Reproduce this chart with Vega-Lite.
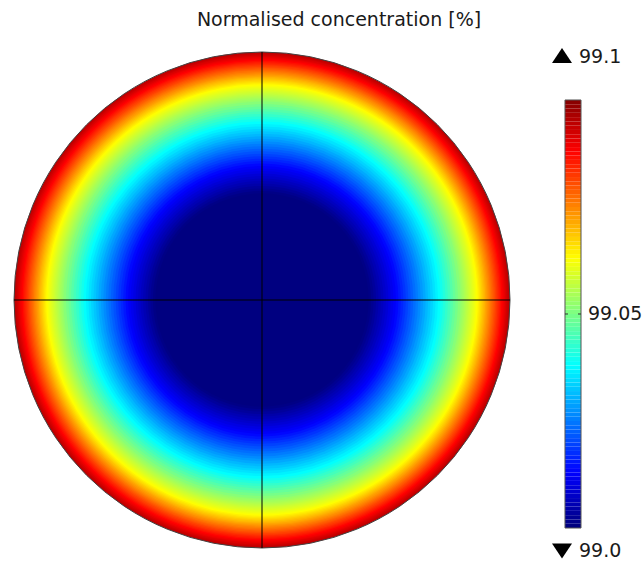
{
  "$schema": "https://vega.github.io/schema/vega-lite/v6.json",
  "padding": {"left": 12, "top": 10, "right": 0, "bottom": 0},
  "background": "white",
  "config": {"view": {"stroke": null}, "font": "DejaVu Sans"},
  "title": {"text": "Normalised concentration [%]", "fontSize": 19, "fontWeight": "normal", "font": "DejaVu Sans", "color": "#1a1a1a", "anchor": "middle", "offset": 18, "dx": 10},
  "width": 632,
  "height": 500,
  "datasets": {
    "rings": [
      {"r": 1.000, "c": 99.0944}, {"r": 0.995, "c": 99.0932}, {"r": 0.990, "c": 99.0921}, {"r": 0.985, "c": 99.0909},
      {"r": 0.980, "c": 99.0897}, {"r": 0.975, "c": 99.0886}, {"r": 0.970, "c": 99.0874}, {"r": 0.965, "c": 99.0861},
      {"r": 0.960, "c": 99.0849}, {"r": 0.955, "c": 99.0837}, {"r": 0.950, "c": 99.0824}, {"r": 0.945, "c": 99.0812},
      {"r": 0.940, "c": 99.0800}, {"r": 0.935, "c": 99.0787}, {"r": 0.930, "c": 99.0775}, {"r": 0.925, "c": 99.0762},
      {"r": 0.920, "c": 99.0750}, {"r": 0.915, "c": 99.0738}, {"r": 0.910, "c": 99.0725}, {"r": 0.905, "c": 99.0713},
      {"r": 0.900, "c": 99.0700}, {"r": 0.895, "c": 99.0688}, {"r": 0.890, "c": 99.0676}, {"r": 0.885, "c": 99.0663},
      {"r": 0.880, "c": 99.0651}, {"r": 0.875, "c": 99.0639}, {"r": 0.870, "c": 99.0626}, {"r": 0.865, "c": 99.0618},
      {"r": 0.860, "c": 99.0609}, {"r": 0.855, "c": 99.0601}, {"r": 0.850, "c": 99.0593}, {"r": 0.845, "c": 99.0585},
      {"r": 0.840, "c": 99.0577}, {"r": 0.835, "c": 99.0569}, {"r": 0.830, "c": 99.0560}, {"r": 0.825, "c": 99.0552},
      {"r": 0.820, "c": 99.0544}, {"r": 0.815, "c": 99.0536}, {"r": 0.810, "c": 99.0528}, {"r": 0.805, "c": 99.0520},
      {"r": 0.80, "c": 99.0507}, {"r": 0.79, "c": 99.0491}, {"r": 0.78, "c": 99.0475}, {"r": 0.77, "c": 99.0458},
      {"r": 0.76, "c": 99.0442}, {"r": 0.75, "c": 99.0426}, {"r": 0.74, "c": 99.0409}, {"r": 0.73, "c": 99.0393},
      {"r": 0.72, "c": 99.0377}, {"r": 0.71, "c": 99.0362}, {"r": 0.70, "c": 99.0348}, {"r": 0.69, "c": 99.0333},
      {"r": 0.68, "c": 99.0319}, {"r": 0.67, "c": 99.0305}, {"r": 0.66, "c": 99.0290}, {"r": 0.65, "c": 99.0276},
      {"r": 0.64, "c": 99.0261}, {"r": 0.63, "c": 99.0247}, {"r": 0.62, "c": 99.0233}, {"r": 0.61, "c": 99.0218},
      {"r": 0.60, "c": 99.0204}, {"r": 0.59, "c": 99.0190}, {"r": 0.58, "c": 99.0175}, {"r": 0.57, "c": 99.0161},
      {"r": 0.56, "c": 99.0147}, {"r": 0.55, "c": 99.0132}, {"r": 0.54, "c": 99.0119}, {"r": 0.53, "c": 99.0108},
      {"r": 0.52, "c": 99.0097}, {"r": 0.51, "c": 99.0085}, {"r": 0.50, "c": 99.0074}, {"r": 0.49, "c": 99.0062},
      {"r": 0.48, "c": 99.0051}, {"r": 0.47, "c": 99.0040}, {"r": 0.46, "c": 99.0028}, {"r": 0.45, "c": 99.0017},
      {"r": 0.44, "c": 99.0006}, {"r": 0.43, "c": 99.0000}
    ],
    "bar": [
      {"lo": 99.000, "hi": 99.001}, {"lo": 99.001, "hi": 99.002}, {"lo": 99.002, "hi": 99.003}, {"lo": 99.003, "hi": 99.004},
      {"lo": 99.004, "hi": 99.005}, {"lo": 99.005, "hi": 99.006}, {"lo": 99.006, "hi": 99.007}, {"lo": 99.007, "hi": 99.008},
      {"lo": 99.008, "hi": 99.009}, {"lo": 99.009, "hi": 99.010}, {"lo": 99.010, "hi": 99.011}, {"lo": 99.011, "hi": 99.012},
      {"lo": 99.012, "hi": 99.013}, {"lo": 99.013, "hi": 99.014}, {"lo": 99.014, "hi": 99.015}, {"lo": 99.015, "hi": 99.016},
      {"lo": 99.016, "hi": 99.017}, {"lo": 99.017, "hi": 99.018}, {"lo": 99.018, "hi": 99.019}, {"lo": 99.019, "hi": 99.020},
      {"lo": 99.020, "hi": 99.021}, {"lo": 99.021, "hi": 99.022}, {"lo": 99.022, "hi": 99.023}, {"lo": 99.023, "hi": 99.024},
      {"lo": 99.024, "hi": 99.025}, {"lo": 99.025, "hi": 99.026}, {"lo": 99.026, "hi": 99.027}, {"lo": 99.027, "hi": 99.028},
      {"lo": 99.028, "hi": 99.029}, {"lo": 99.029, "hi": 99.030}, {"lo": 99.030, "hi": 99.031}, {"lo": 99.031, "hi": 99.032},
      {"lo": 99.032, "hi": 99.033}, {"lo": 99.033, "hi": 99.034}, {"lo": 99.034, "hi": 99.035}, {"lo": 99.035, "hi": 99.036},
      {"lo": 99.036, "hi": 99.037}, {"lo": 99.037, "hi": 99.038}, {"lo": 99.038, "hi": 99.039}, {"lo": 99.039, "hi": 99.040},
      {"lo": 99.040, "hi": 99.041}, {"lo": 99.041, "hi": 99.042}, {"lo": 99.042, "hi": 99.043}, {"lo": 99.043, "hi": 99.044},
      {"lo": 99.044, "hi": 99.045}, {"lo": 99.045, "hi": 99.046}, {"lo": 99.046, "hi": 99.047}, {"lo": 99.047, "hi": 99.048},
      {"lo": 99.048, "hi": 99.049}, {"lo": 99.049, "hi": 99.050}, {"lo": 99.050, "hi": 99.051}, {"lo": 99.051, "hi": 99.052},
      {"lo": 99.052, "hi": 99.053}, {"lo": 99.053, "hi": 99.054}, {"lo": 99.054, "hi": 99.055}, {"lo": 99.055, "hi": 99.056},
      {"lo": 99.056, "hi": 99.057}, {"lo": 99.057, "hi": 99.058}, {"lo": 99.058, "hi": 99.059}, {"lo": 99.059, "hi": 99.060},
      {"lo": 99.060, "hi": 99.061}, {"lo": 99.061, "hi": 99.062}, {"lo": 99.062, "hi": 99.063}, {"lo": 99.063, "hi": 99.064},
      {"lo": 99.064, "hi": 99.065}, {"lo": 99.065, "hi": 99.066}, {"lo": 99.066, "hi": 99.067}, {"lo": 99.067, "hi": 99.068},
      {"lo": 99.068, "hi": 99.069}, {"lo": 99.069, "hi": 99.070}, {"lo": 99.070, "hi": 99.071}, {"lo": 99.071, "hi": 99.072},
      {"lo": 99.072, "hi": 99.073}, {"lo": 99.073, "hi": 99.074}, {"lo": 99.074, "hi": 99.075}, {"lo": 99.075, "hi": 99.076},
      {"lo": 99.076, "hi": 99.077}, {"lo": 99.077, "hi": 99.078}, {"lo": 99.078, "hi": 99.079}, {"lo": 99.079, "hi": 99.080},
      {"lo": 99.080, "hi": 99.081}, {"lo": 99.081, "hi": 99.082}, {"lo": 99.082, "hi": 99.083}, {"lo": 99.083, "hi": 99.084},
      {"lo": 99.084, "hi": 99.085}, {"lo": 99.085, "hi": 99.086}, {"lo": 99.086, "hi": 99.087}, {"lo": 99.087, "hi": 99.088},
      {"lo": 99.088, "hi": 99.089}, {"lo": 99.089, "hi": 99.090}, {"lo": 99.090, "hi": 99.091}, {"lo": 99.091, "hi": 99.092},
      {"lo": 99.092, "hi": 99.093}, {"lo": 99.093, "hi": 99.094}, {"lo": 99.094, "hi": 99.095}, {"lo": 99.095, "hi": 99.096},
      {"lo": 99.096, "hi": 99.097}, {"lo": 99.097, "hi": 99.098}, {"lo": 99.098, "hi": 99.099}, {"lo": 99.099, "hi": 99.100}
    ]
  },
  "resolve": {"scale": {"y": "independent"}, "axis": {"y": "independent"}},
  "layer": [
    {
      "layer": [
        {
          "data": {"name": "rings"},
          "mark": {"type": "point", "shape": "circle", "filled": true, "opacity": 1, "strokeWidth": 0},
          "encoding": {
            "x": {"datum": 0, "type": "quantitative", "scale": {"domain": [-1.00403, 1.54435], "nice": false, "zero": false}, "axis": null},
            "y": {"datum": 0, "type": "quantitative", "scale": {"domain": [-1.00806, 1.00806], "nice": false, "zero": false}, "axis": null},
            "size": {"field": "r", "type": "quantitative", "legend": null, "scale": {"type": "pow", "exponent": 2, "domain": [0, 1], "range": [0, 246016], "zero": true}},
            "color": {
              "field": "c", "type": "quantitative", "legend": null,
              "scale": {"domain": [99.0, 99.0125, 99.0375, 99.0625, 99.0875, 99.1], "range": ["#000080", "#0000ff", "#00ffff", "#ffff00", "#ff0000", "#800000"], "clamp": true, "interpolate": "rgb"}
            }
          }
        },
        {
          "data": {"values": [{}]},
          "mark": {"type": "point", "shape": "circle", "filled": false, "opacity": 1, "stroke": "#444444", "strokeWidth": 1},
          "encoding": {
            "x": {"datum": 0, "type": "quantitative", "axis": null},
            "y": {"datum": 0, "type": "quantitative", "axis": null},
            "size": {"datum": 1, "type": "quantitative", "legend": null}
          }
        },
        {
          "data": {"values": [{}]},
          "mark": {"type": "rule", "color": "#000000", "strokeWidth": 1},
          "encoding": {
            "x": {"datum": 0, "type": "quantitative", "axis": null},
            "y": {"datum": -1, "type": "quantitative", "axis": null},
            "y2": {"datum": 1}
          }
        },
        {
          "data": {"values": [{}]},
          "mark": {"type": "rule", "color": "#000000", "strokeWidth": 1},
          "encoding": {
            "y": {"datum": 0, "type": "quantitative", "axis": null},
            "x": {"datum": -1, "type": "quantitative", "axis": null},
            "x2": {"datum": 1}
          }
        }
      ]
    },
    {
      "layer": [
        {
          "data": {"name": "bar"},
          "mark": {"type": "rect"},
          "encoding": {
            "x": {"datum": 1.22177, "type": "quantitative", "axis": null},
            "x2": {"datum": 1.28629},
            "y": {"field": "lo", "type": "quantitative", "scale": {"domain": [98.99486, 99.11168], "nice": false, "zero": false}, "axis": null},
            "y2": {"field": "hi"},
            "color": {"field": "lo", "type": "quantitative", "legend": null}
          }
        },
        {
          "data": {"values": [{}]},
          "mark": {"type": "rect", "filled": false, "stroke": "#555555", "strokeWidth": 1},
          "encoding": {
            "x": {"datum": 1.22177, "type": "quantitative", "axis": null},
            "x2": {"datum": 1.28629},
            "y": {"datum": 99.0, "type": "quantitative", "axis": null},
            "y2": {"datum": 99.1}
          }
        },
        {
          "data": {"values": [{}]},
          "mark": {"type": "rule", "color": "#333333", "strokeWidth": 1},
          "encoding": {
            "x": {"datum": 1.22177, "type": "quantitative", "axis": null},
            "x2": {"datum": 1.23387},
            "y": {"datum": 99.05, "type": "quantitative", "axis": null}
          }
        },
        {
          "data": {"values": [{}]},
          "mark": {"type": "rule", "color": "#333333", "strokeWidth": 1},
          "encoding": {
            "x": {"datum": 1.27419, "type": "quantitative", "axis": null},
            "x2": {"datum": 1.28629},
            "y": {"datum": 99.05, "type": "quantitative", "axis": null}
          }
        },
        {
          "data": {"values": [{}]},
          "mark": {"type": "point", "shape": "M-1,0.75L1,0.75L0,-0.75Z", "filled": true, "color": "#000000", "opacity": 1, "size": 400},
          "encoding": {"x": {"datum": 1.20968, "type": "quantitative", "axis": null}, "y": {"datum": 99.1104, "type": "quantitative", "axis": null}}
        },
        {
          "data": {"values": [{}]},
          "mark": {"type": "point", "shape": "M-1,-0.75L1,-0.75L0,0.75Z", "filled": true, "color": "#000000", "opacity": 1, "size": 400},
          "encoding": {"x": {"datum": 1.20968, "type": "quantitative", "axis": null}, "y": {"datum": 98.99463, "type": "quantitative", "axis": null}}
        },
        {
          "data": {"values": [{"t": "99.1"}]},
          "mark": {"type": "text", "align": "left", "baseline": "middle", "fontSize": 19, "font": "DejaVu Sans", "color": "#1a1a1a"},
          "encoding": {"x": {"datum": 1.27823, "type": "quantitative", "axis": null}, "y": {"datum": 99.11005, "type": "quantitative", "axis": null}, "text": {"field": "t"}}
        },
        {
          "data": {"values": [{"t": "99.0"}]},
          "mark": {"type": "text", "align": "left", "baseline": "middle", "fontSize": 19, "font": "DejaVu Sans", "color": "#1a1a1a"},
          "encoding": {"x": {"datum": 1.27823, "type": "quantitative", "axis": null}, "y": {"datum": 98.99463, "type": "quantitative", "axis": null}, "text": {"field": "t"}}
        },
        {
          "data": {"values": [{"t": "99.05"}]},
          "mark": {"type": "text", "align": "left", "baseline": "middle", "fontSize": 19, "font": "DejaVu Sans", "color": "#1a1a1a"},
          "encoding": {"x": {"datum": 1.31452, "type": "quantitative", "axis": null}, "y": {"datum": 99.05, "type": "quantitative", "axis": null}, "text": {"field": "t"}}
        }
      ]
    }
  ]
}
